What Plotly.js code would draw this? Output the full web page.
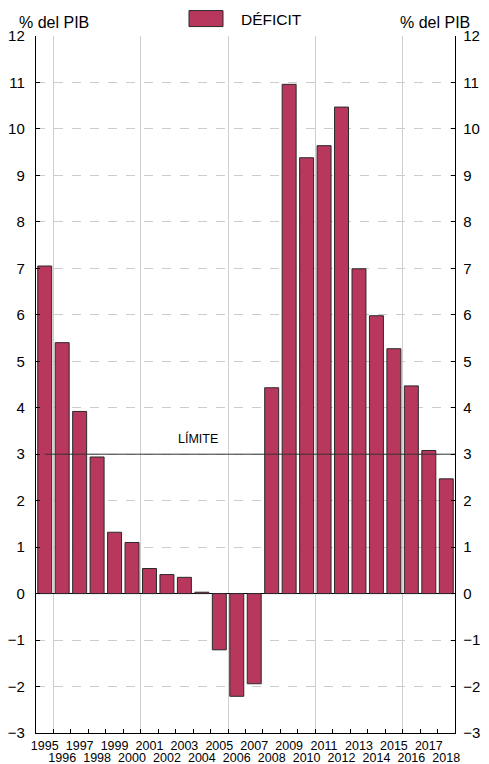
<!DOCTYPE html>
<html><head><meta charset="utf-8">
<script src="https://cdn.plot.ly/plotly-3.0.1.min.js"></script>
<style>html,body{margin:0;padding:0;background:#fff}#chart{width:489px;height:764px}</style>
</head><body><div id="chart"></div>
<script>
const years = [1995,1996,1997,1998,1999,2000,2001,2002,2003,2004,2005,2006,2007,2008,2009,2010,2011,2012,2013,2014,2015,2016,2017,2018];
const deficit = [7.05,5.4,3.92,2.94,1.32,1.10,0.54,0.41,0.35,0.03,-1.21,-2.21,-1.94,4.43,10.96,9.38,9.64,10.47,6.99,5.98,5.27,4.47,3.08,2.47];
const limitValue = 3;
const yTicks = [-3,-2,-1,0,1,2,3,4,5,6,7,8,9,10,11,12];
const seriesName = 'DÉFICIT';
const limitLabel = 'LÍMITE';
const unitLabel = '% del PIB';

const oddRow = years.filter((y,i)=> i%2===0);
const evenRow = years.filter((y,i)=> i%2===1);
const boundaries = years.slice(0,-1).map(y=>y+0.5);
const majorBounds = boundaries.filter(b => (b-0.5)%5===0);
const xr = [years[0]-0.5, years[years.length-1]+0.5];
const font = {family:'Liberation Sans, Arial, sans-serif', color:'#000'};
const narrow = {family:'Liberation Sans Narrow, Liberation Sans, Arial, sans-serif', color:'#000', size:12.5};

function dummy(xa, ya){
  return {type:'scatter', mode:'none', x:[years[0]], y:[0], xaxis:xa, yaxis:ya, showlegend:false, hoverinfo:'skip'};
}

const traces = [
  dummy('x3','y'),
  dummy('x4','y'),
  dummy('x2','y'),
  dummy('x','y2'),
  {type:'bar', x:years, y:deficit, name:seriesName, width:0.8,
   marker:{color:'#B8375D', line:{color:'#2a2a2a', width:1}}, showlegend:true, hoverinfo:'x+y'},
  {type:'scatter', mode:'lines', x:[years[0], xr[1]], y:[limitValue, limitValue],
   line:{color:'#333', width:1}, showlegend:false, hoverinfo:'skip'}
];

const layout = {
  width:489, height:764,
  margin:{l:36, r:34, t:36, b:31, autoexpand:false},
  paper_bgcolor:'#fff', plot_bgcolor:'#fff',
  font:Object.assign({size:14}, font),
  bargap:0.2,
  showlegend:true,
  legend:{orientation:'h', x:0.3938, xanchor:'left', y:1.0, yanchor:'bottom', yref:'paper',
          font:Object.assign({size:15.5}, font), bgcolor:'rgba(0,0,0,0)'},
  xaxis:{range:xr, tickvals:oddRow, ticktext:oddRow.map(String), ticks:'', showgrid:false, zeroline:false,
         showline:true, linecolor:'#000', linewidth:1.2, tickfont:narrow, tickangle:0, ticklabelstandoff:1},
  xaxis2:{overlaying:'x', anchor:'y', range:xr, tickvals:evenRow, ticktext:evenRow.map(String), ticks:'',
          showgrid:false, zeroline:false, showline:false, tickfont:narrow, tickangle:0, ticklabelstandoff:15},
  xaxis3:{overlaying:'x', anchor:'y', range:xr, tickvals:majorBounds, ticks:'', showticklabels:false,
          showgrid:true, gridcolor:'#cfcfcf', gridwidth:1, zeroline:false, showline:false},
  xaxis4:{overlaying:'x', anchor:'y', range:xr, tickvals:boundaries, ticks:'inside', ticklen:4, tickcolor:'#000',
          showticklabels:false, showgrid:false, zeroline:false, showline:false},
  yaxis:{range:[-3,12], tickvals:yTicks, ticks:'inside', ticklen:4, tickcolor:'#000',
         showline:true, linecolor:'#000', linewidth:1.2, showgrid:true, gridcolor:'#cccccc', griddash:'dash',
         zeroline:true, zerolinecolor:'#000', zerolinewidth:1, tickfont:Object.assign({size:15}, font),
         ticklabelstandoff:7},
  yaxis2:{overlaying:'y', anchor:'x', side:'right', range:[-3,12], tickvals:yTicks, ticks:'inside', ticklen:4, tickcolor:'#000',
          showline:true, linecolor:'#000', linewidth:1.2, showgrid:false, zeroline:false,
          tickfont:Object.assign({size:15}, font), ticklabelstandoff:4},
  annotations:[
    {text:unitLabel, xref:'paper', yref:'paper', x:-0.0453, y:1.004, xanchor:'left', yanchor:'bottom', showarrow:false, font:Object.assign({size:16}, font)},
    {text:unitLabel, xref:'paper', yref:'paper', x:1.0406, y:1.004, xanchor:'right', yanchor:'bottom', showarrow:false, font:Object.assign({size:16}, font)},
    {text:limitLabel, x:2003.8, y:limitValue, xref:'x', yref:'y', yanchor:'bottom', yshift:6, showarrow:false, font:Object.assign({size:12.5}, font)}
  ]
};

Plotly.newPlot('chart', traces, layout, {displayModeBar:false, staticPlot:true}).then(()=>{
  document.querySelectorAll('.legend [clip-path]').forEach(e=>e.removeAttribute('clip-path'));
  document.querySelectorAll('.legend .legendpoints path').forEach(p=>{
    p.setAttribute('d','M2,8H-32V-8H2Z');
  });
});
</script></body></html>
